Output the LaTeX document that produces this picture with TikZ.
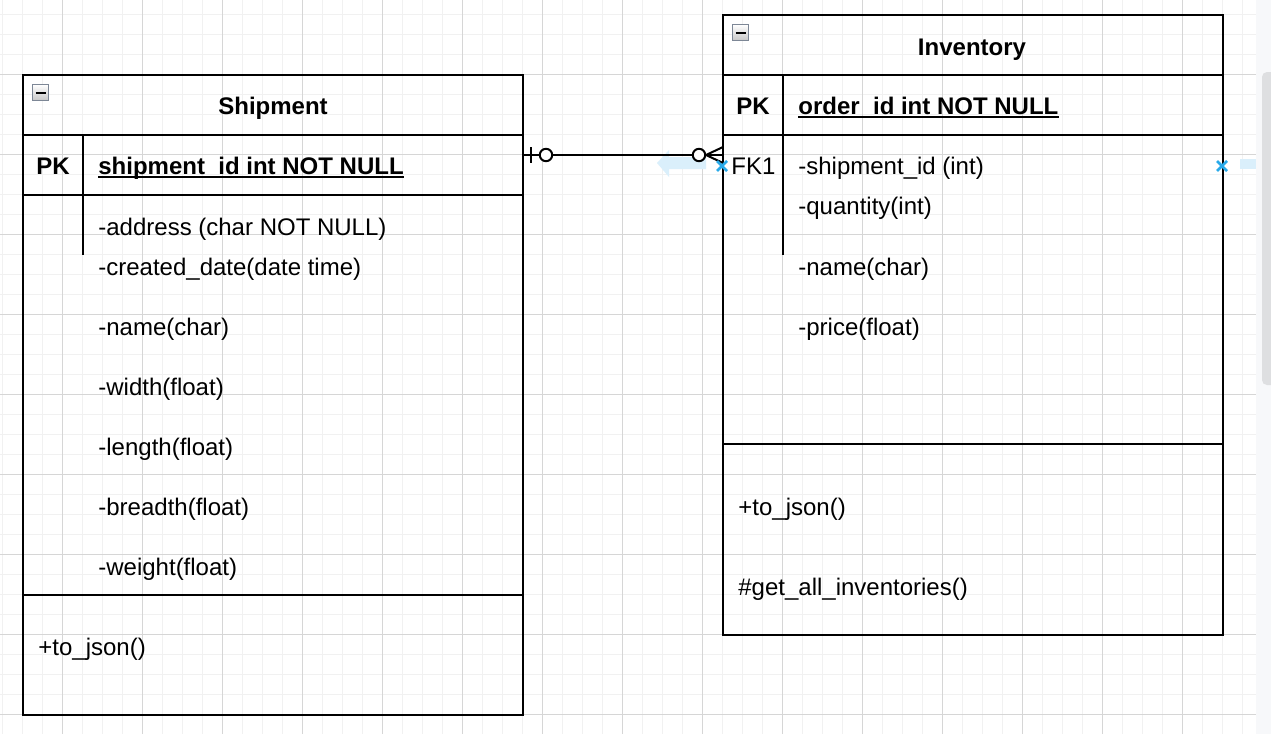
\documentclass[tikz,border=0pt]{standalone}
\usepackage{fontspec}
\setmainfont{Liberation Sans}
\usetikzlibrary{calc}
\definecolor{gridminor}{RGB}{241,241,241}
\definecolor{gridmajor}{RGB}{214,214,214}
\definecolor{hoverblue}{RGB}{41,170,234}
\definecolor{paleblue}{RGB}{218,239,251}
\definecolor{scrollbg}{RGB}{247,248,250}
\definecolor{scrollthumb}{RGB}{222,223,225}
\definecolor{iconborder}{RGB}{125,135,150}
\begin{document}
\begin{tikzpicture}[x=0.5pt,y=-0.5pt,
  txt/.style={font=\fontsize{12pt}{14pt}\selectfont, inner sep=0pt, anchor=base west},
  ttl/.style={font=\fontsize{12pt}{14pt}\selectfont\bfseries, inner sep=0pt, anchor=base},
  pk/.style={font=\fontsize{12pt}{14pt}\selectfont\bfseries, inner sep=0pt, anchor=base},
  keytxt/.style={font=\fontsize{12pt}{14pt}\selectfont\bfseries, inner sep=0pt, anchor=base west},
  tablebox/.style={draw=black, line width=1pt, inner sep=0pt, outer sep=0pt, anchor=north west, minimum width=250pt},
  rowline/.style={line width=1pt},
  conn/.style={line width=1pt, black},
  icon/.style={draw=iconborder, line width=0.5pt, top color=white, bottom color=black!22, minimum size=8pt, inner sep=0pt, outer sep=0pt},
  hoverx/.style={hoverblue, line width=1.3pt},
  minorgrid/.style={gridminor, line width=0.5pt},
  majorgrid/.style={gridmajor, line width=0.5pt}
]
\clip (0,0) rectangle (1271,734);
\fill[white] (0,0) rectangle (1271,734);
% grid
\foreach \x in {2,22,...,1262} \draw[minorgrid] (\x,0) -- (\x,734);
\foreach \y in {14,34,...,734} \draw[minorgrid] (0,\y) -- (1271,\y);
\foreach \x in {62,142,...,1262} \draw[majorgrid] (\x,0) -- (\x,734);
\foreach \y in {74,154,...,714} \draw[majorgrid] (0,\y) -- (1271,\y);
% scrollbar
\fill[scrollbg] (1256,0) rectangle (1271,734);
\fill[scrollthumb, rounded corners=2.5pt] (1262,72) rectangle (1280,385);
\fill[paleblue] (1240,159) rectangle (1256,169);

% Shipment table
\node[tablebox, minimum height=320pt] (ship) at (23,75) {};
\draw[rowline] (23,135) -- (523,135);
\draw[rowline] (23,195) -- (523,195);
\draw[rowline] (23,595) -- (523,595);
\draw[rowline] (83,135) -- (83,255);
\node[icon] (shipicon) at (40.5,92.5) {};
\draw[line width=1pt] ([xshift=-2.5pt]shipicon.center) -- ([xshift=2.5pt]shipicon.center);
\node[ttl] (shipname) at (273,114) {Shipment};
\node[pk] (shippk) at (53,174) {PK};
\node[keytxt] (shipkey) at (98,174) {shipment\_id int NOT NULL};
\draw[line width=0.8pt] ([yshift=-1.6pt]shipkey.base west) -- ([yshift=-1.6pt]shipkey.base east);
\node[txt] (sa1) at (98,235) {-address (char NOT NULL)};
\node[txt] (sa2) at (98,275) {-created\_date(date time)};
\node[txt] (sa3) at (98,335) {-name(char)};
\node[txt] (sa4) at (98,395) {-width(float)};
\node[txt] (sa5) at (98,455) {-length(float)};
\node[txt] (sa6) at (98,515) {-breadth(float)};
\node[txt] (sa7) at (98,575) {-weight(float)};
\node[txt] (sm1) at (38,655) {+to\_json()};

% Inventory table
\node[tablebox, minimum height=310pt] (inv) at (723,15) {};
\draw[rowline] (723,75) -- (1223,75);
\draw[rowline] (723,135) -- (1223,135);
\draw[rowline] (723,444) -- (1223,444);
\draw[rowline] (783,75) -- (783,255);
\node[icon] (invicon) at (740.5,32.5) {};
\draw[line width=1pt] ([xshift=-2.5pt]invicon.center) -- ([xshift=2.5pt]invicon.center);
\node[ttl] (invname) at (972,55) {Inventory};
\node[pk] (invpk) at (753,114) {PK};
\node[keytxt] (invkey) at (798,114) {order\_id int NOT NULL};
\draw[line width=0.8pt] ([yshift=-1.6pt]invkey.base west) -- ([yshift=-1.6pt]invkey.base east);
\node[txt] (fk) at (731,174) {FK1};
\node[txt] (ia1) at (798,174) {-shipment\_id (int)};
\node[txt] (ia2) at (798,214) {-quantity(int)};
\node[txt] (ia3) at (798,275) {-name(char)};
\node[txt] (ia4) at (798,335) {-price(float)};
\node[txt] (im1) at (738,515) {+to\_json()};
\node[txt] (im2) at (738,595) {\#get\_all\_inventories()};

% hover arrow
\fill[paleblue] (657,163) -- (669,150) -- (669,157) -- (706,157) -- (706,169) -- (669,169) -- (669,177) -- cycle;

% connector
\coordinate (cs) at (ship.north east |- 0,155);
\coordinate (ce) at (inv.north west |- 0,155);
\draw[conn] (cs) -- (ce);
\draw[conn] ($(cs)+(8,-8)$) -- ($(cs)+(8,8)$);
\draw[conn, fill=white] ($(cs)+(23,0)$) circle[radius=3.1pt];
\draw[conn] ($(ce)+(-17,0)$) -- ($(ce)+(0,-8)$);
\draw[conn] ($(ce)+(-17,0)$) -- ($(ce)+(0,8)$);
\draw[conn, fill=white] ($(ce)+(-24,0)$) circle[radius=3.1pt];

% hover markers
\coordinate (hx1) at (722,166);
\coordinate (hx2) at (1222,166);
\foreach \p in {hx1,hx2} {
  \draw[hoverx] ($(\p)+(-5,-5)$) -- ($(\p)+(5,5)$);
  \draw[hoverx] ($(\p)+(-5,5)$) -- ($(\p)+(5,-5)$);
}
\end{tikzpicture}
\end{document}
